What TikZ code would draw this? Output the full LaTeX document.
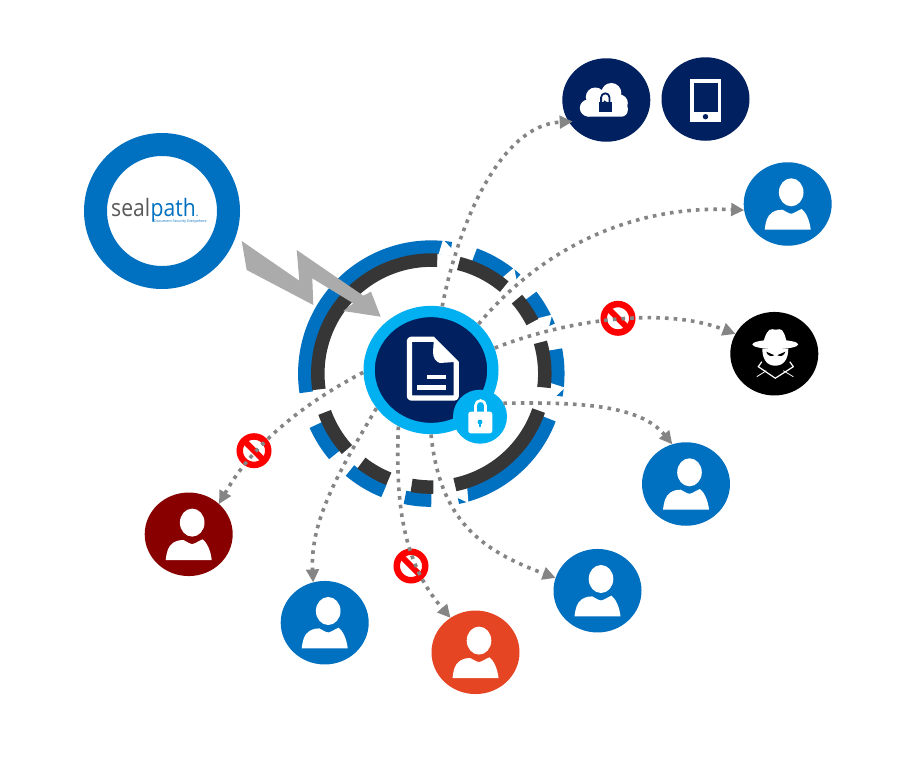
\documentclass[tikz,border=0pt]{standalone}
\usepackage{fontspec}
\setmainfont{Open Sans}
\usetikzlibrary{arrows.meta,shapes.geometric}
\definecolor{sealblue}{HTML}{0070C0}
\definecolor{ringdark}{HTML}{363636}
\definecolor{navy}{HTML}{002060}
\definecolor{skyb}{HTML}{00B0F0}
\definecolor{maroonu}{HTML}{880000}
\definecolor{orangeu}{HTML}{E54522}
\definecolor{boltgray}{HTML}{ABABAB}
\definecolor{linegray}{HTML}{858585}
\definecolor{sealgray}{HTML}{595959}
\tikzset{
  disc/.style={ellipse,minimum width=88pt,minimum height=83.5pt,inner sep=0pt,outer sep=0pt,fill=#1},
  forbid/.style={circle,draw=red,line width=6.5pt,minimum size=28.5pt,inner sep=0pt,outer sep=0pt,fill=white},
  dotline/.style={draw=linegray,line width=3.6pt,dash pattern=on 3.6pt off 5.1pt,
    -{Triangle[length=13pt,width=12.5pt,fill=linegray,sep=0pt]}},
  person/.pic={
    \fill[white] (3.5,-11.7) ellipse[x radius=12.3,y radius=14];
    \fill[white] (-23,25.7) .. controls (-22,18) and (-21,12) .. (-15.3,8.3)
      .. controls (-11,6) and (-8,5.5) .. (-5.3,5.7)
      .. controls (-2,7) and (1,10) .. (4,9.7)
      .. controls (7,9) and (11,6) .. (14,5)
      .. controls (18,8) and (22,16) .. (23,25.7) -- cycle;
  }
}
\newcommand{\ringarc}[5]{\draw[#1,line width=#2pt] ([shift={(-#4:#3)}]ringc) arc[start angle=-#4,end angle=-#5,radius=#3];}
% white cut that leaves a small flag at the clockwise end of a blue segment
\newcommand{\flagcut}[1]{\fill[white] ([shift={(-#1-4:134.5)}]ringc) -- ([shift={(-#1+1:125.5)}]ringc) -- ([shift={(-#1+1:119.5)}]ringc) -- ([shift={(-#1-5.5:119.5)}]ringc) -- cycle;}
\begin{document}
\begin{tikzpicture}[x=1pt,y=-1pt,line join=miter]
\useasboundingbox (0,0) rectangle (921,771);
\fill[white] (0,0) rectangle (921,771);
\coordinate (ringc) at (431.3,373.6);
% segmented ring, blue outer band
\foreach \a/\b in {81/188.5,70/48,38/22,11/-10,-21/-78,-90/-102,-112/-130,-140/-156}{\ringarc{sealblue}{13.5}{126.5}{\a}{\b}}
\foreach \c in {81,48,22,-10,-78}{\flagcut{\c}}
% segmented ring, dark inner band
\foreach \a/\b in {87/188,76/50,41/27,16/-7,-19/-78,-89/-100,-112/-128,-138/-160}{\ringarc{ringdark}{13.5}{113.5}{\a}{\b}}
% bolt
\fill[boltgray] (241.7,241) -- (299.3,280.7) -- (296.7,250) -- (363.3,295.7) -- (371,291.7) -- (380.7,316.7)
  -- (343.3,311) -- (353.3,303.3) -- (312.3,278.3) -- (313.3,305) -- (246.7,270) -- cycle;
% seal logo
\node[circle,draw=sealblue,line width=23pt,minimum size=133pt,inner sep=0pt,fill=white] (seal) at (162,211) {};
\node[anchor=base west,inner sep=0pt,text=sealgray,xscale=.88,font=\fontsize{24}{24}\selectfont] (sealword) at (111,216.5) {seal};
\node[anchor=base west,inner sep=0pt,text=sealblue,xscale=.88,font=\fontsize{24}{24}\selectfont] (pathword) at (150.5,216.5) {path\fontsize{11}{11}\selectfont.};
\node[anchor=base west,inner sep=0pt,text=sealblue,font=\fontsize{3.6}{4}\selectfont] (tagline) at (154,222.4) {Document Security Everywhere};
% discs
\node[disc=navy] (cloud) at (606.3,100) {};
\node[disc=navy] (tablet) at (705.5,99) {};
\node[disc=sealblue] (userA) at (787.7,204) {};
\node[disc=black] (hat) at (774.3,353.7) {};
\node[disc=sealblue] (userB) at (686,484) {};
\node[disc=sealblue] (userC) at (597.5,590.7) {};
\node[disc=orangeu] (userD) at (475.5,652.3) {};
\node[disc=sealblue] (userE) at (324.7,622.7) {};
\node[disc=maroonu] (userF) at (188.7,534.3) {};
\foreach \n in {userA,userB,userC,userD,userE,userF}{\pic at (\n) {person};}
% cloud icon
\begin{scope}[shift={(606.3,100)}]
  \fill[white,rounded corners=6.5pt] (-24,2) rectangle (21.5,16.7);
  \fill[white] (-11,-3) circle[radius=9.5] (5,-7) circle[radius=10] (13,3) circle[radius=8.5] (-18,8) circle[radius=8.5];
  \fill[navy] (-7.7,1.7) rectangle (5.3,11.7);
  \draw[navy,line width=1.8pt] (-5.2,2) -- (-5.2,-2.5) arc[start angle=180,end angle=360,radius=4.2] -- (3.2,2);
\end{scope}
% tablet icon
\begin{scope}[shift={(705.5,99)}]
  \fill[white] (-15.7,-20) rectangle (15.7,22.7);
  \fill[navy] (-11.7,-16.3) rectangle (12.3,12.7);
  \fill[navy] (0,17.7) circle[radius=2.7];
\end{scope}
% spy icon
\begin{scope}[shift={(774.3,353.7)}]
  \fill[white] (1,-9.3) ellipse[x radius=23,y radius=4.6];
  \fill[white] (-11.5,-9) .. controls (-9,-20) and (-6,-25) .. (-2,-24.5) .. controls (0,-24) and (3,-23.5) .. (5,-24.5)
     .. controls (9,-25) and (11,-18) .. (13,-9) -- cycle;
  \fill[white] (-12,-5) -- (14,-5) .. controls (14,6) and (9,12) .. (1,12) .. controls (-7,12) and (-12,6) .. (-12,-5) -- cycle;
  \fill[black] (-8,-2) -- (0,1.5) .. controls (-3,3.5) and (-7,2) .. (-8,-2) -- cycle;
  \fill[black] (11,-2) -- (3,1.5) .. controls (6,3.5) and (10,2) .. (11,-2) -- cycle;
  \draw[white,line width=1.2pt] (-12.5,8) -- (-16,13) -- (1,24.5) -- (19,13) -- (15.5,8);
  \draw[white,line width=.8pt] (-17.5,23) -- (-8,17) (19,23) -- (9,17);
\end{scope}
% central document
\node[ellipse,fill=navy,draw=skyb,line width=11.3pt,minimum width=123.7pt,minimum height=117pt,inner sep=0pt,outer sep=6pt] (center) at (431,370) {};
\begin{scope}[line join=round]
  \fill[white] (434,337) -- (458.7,361.7) -- (440,363) .. controls (436,362) and (433,358) .. (433,352) -- cycle;
  \draw[white,line width=5.3pt,rounded corners=2pt] (434,339.3) -- (409.4,339.3) -- (409.4,398) -- (456.2,398) -- (456.2,361.7);
\end{scope}
\fill[white] (426.7,375) rectangle (445.7,379.3);
\fill[white] (417.3,385) rectangle (445.7,389.7);
% lock
\node[circle,fill=skyb,minimum size=54pt,inner sep=0pt,outer sep=0pt] (lock) at (480,416.7) {};
\fill[white,rounded corners=2.5pt] (468.3,411.7) rectangle (492.3,433.3);
\draw[white,line width=2.6pt] (475.5,413) -- (475.5,405.5) arc[start angle=180,end angle=360,radius=5] -- (485.5,413);
\fill[skyb] (480,422) circle[radius=2.4];
\fill[skyb] (479.1,422) rectangle (480.9,427);
% prohibited signs
\node[forbid] (signA) at (618,318.3) {};
\node[forbid] (signB) at (411,566) {};
\node[forbid] (signC) at (254,450.7) {};
\foreach \s in {signA,signB,signC}{\draw[red,line width=6pt] (\s.135) -- (\s.-45);}
% connectors
\path[dotline,shorten >=-4pt] (center.80) .. controls (458,225) and (500,125) .. (cloud.210);
\path[dotline] (center.44) .. controls (540,250) and (630,205) .. (userA.188);
\path[dotline] (center.19) .. controls (560,322) and (660,305) .. (hat.153);
\path[dotline] (lock.30) .. controls (580,402) and (640,405) .. (userB.109);
\path[dotline] (center.-90) .. controls (440,520) and (480,550) .. (userC.163);
\path[dotline] (center.-120) .. controls (395,510) and (405,565) .. (userD.126);
\path[dotline] (center.-145) .. controls (340,470) and (310,520) .. (userE.106);
\path[dotline] (center.-178) .. controls (310,400) and (255,440) .. (userF.45);
\end{tikzpicture}
\end{document}
